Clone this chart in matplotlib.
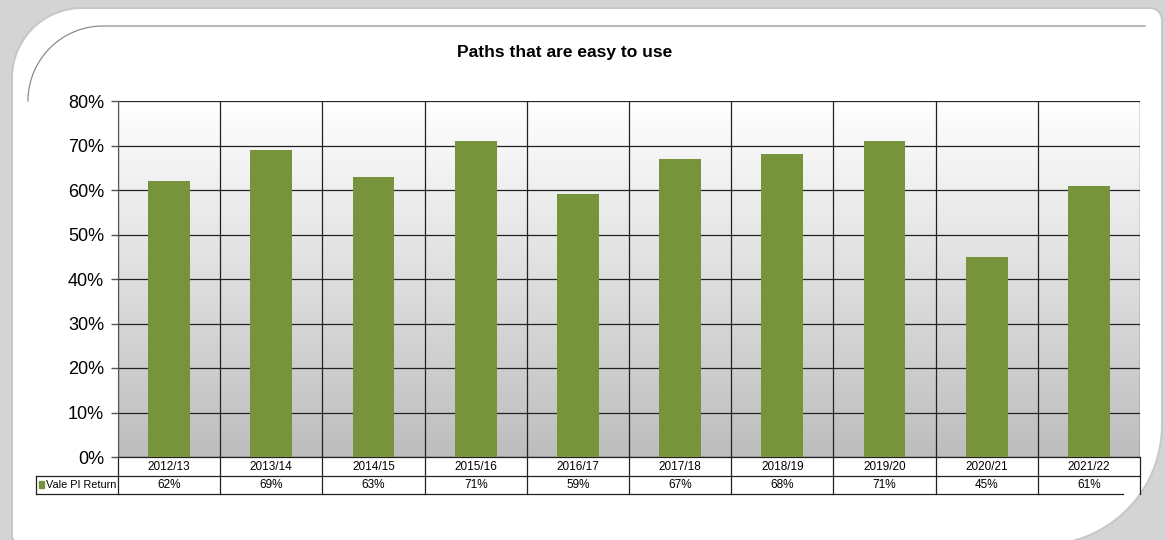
import numpy as np
import matplotlib
matplotlib.use('Agg')
from matplotlib import pyplot as plt
from matplotlib.path import Path
from matplotlib.patches import PathPatch, Rectangle

seasons = ['2012/13', '2013/14', '2014/15', '2015/16', '2016/17',
           '2017/18', '2018/19', '2019/20', '2020/21', '2021/22']
vale_pi_return = [62, 69, 63, 71, 59, 67, 68, 71, 45, 61]
series_name = 'Vale PI Return'
y_ticks = [0, 10, 20, 30, 40, 50, 60, 70, 80]

plt.rcParams['font.family'] = ['Liberation Sans Narrow', 'Liberation Sans', 'DejaVu Sans']

green = '#77933c'
W, H = 1166, 540

fig = plt.figure(figsize=(11.66, 5.4), dpi=100)
fig.patch.set_facecolor('#d4d4d4')

# decorative frame
bg = fig.add_axes([0, 0, 1, 1], zorder=-5)
bg.set_xlim(0, W)
bg.set_ylim(H, 0)
bg.axis('off')


def rounded(x0, y0, x1, y1, r_tl, r_tr, r_br, r_bl, n=30):
    pts = []
    for cx, cy, r, a0 in [(x0 + r_tl, y0 + r_tl, r_tl, 180), (x1 - r_tr, y0 + r_tr, r_tr, 270),
                          (x1 - r_br, y1 - r_br, r_br, 0), (x0 + r_bl, y1 - r_bl, r_bl, 90)]:
        a = np.radians(np.linspace(a0, a0 + 90, n))
        pts += list(zip(cx + r * np.cos(a), cy + r * np.sin(a)))
    pts.append(pts[0])
    return Path(pts, closed=True)


bg.add_patch(PathPatch(rounded(12, 8, 1162, 545, 70, 12, 120, 10), fc='white', ec='#c8c8c8', lw=1.5))
a = np.radians(np.linspace(180, 270, 40))
arc_x = list(28 + 75 * (1 + np.cos(a))) + [1145]
arc_y = list(101 + 75 * np.sin(a)) + [26]
bg.plot(arc_x, arc_y, color='#8c8c8c', lw=0.9)

# main plot
ax = fig.add_axes([118 / W, 1 - 457 / H, (1140 - 118) / W, (457 - 101) / H])
grad = np.linspace(0, 1, 256).reshape(-1, 1)
ax.imshow(grad, cmap=matplotlib.colors.LinearSegmentedColormap.from_list('g', ['#ffffff', '#bdbdbd']),
          extent=[0, 1, 0, 1], transform=ax.transAxes, aspect='auto', zorder=0)

x = np.arange(len(seasons))
ax.bar(x, vale_pi_return, width=0.41, color=green, zorder=3)
ax.set_xlim(-0.5, len(seasons) - 0.5)
ax.set_ylim(0, 80)
ax.set_yticks(y_ticks)
ax.set_yticklabels([f'{t}%' for t in y_ticks], fontsize=13)
ax.tick_params(axis='y', length=5, width=1, color='#555555', pad=5)
ax.set_xticks([])
for t in y_ticks:
    ax.axhline(t, color='#222222', lw=0.9, zorder=1)
for b in np.arange(-0.5, len(seasons), 1.0):
    ax.axvline(b, color='#222222', lw=0.9, zorder=1)
for s in ax.spines.values():
    s.set_visible(False)
ax.spines['left'].set_visible(True)
ax.spines['left'].set_color('#555555')

# data table below the axis
tr = ax.get_xaxis_transform()
r0, r1, r2 = 0, -19 / 356, -37 / 356
left = -0.5 - 82 * len(seasons) / 1022
for b in np.arange(-0.5, len(seasons), 1.0):
    ax.plot([b, b], [r0, r2], transform=tr, color='#222222', lw=0.9, clip_on=False)
ax.plot([-0.5, len(seasons) - 0.5], [r0, r0], transform=tr, color='#222222', lw=0.9, clip_on=False)
ax.plot([left, len(seasons) - 0.5], [r1, r1], transform=tr, color='#222222', lw=0.9, clip_on=False)
ax.plot([left, len(seasons) - 0.67], [r2, r2], transform=tr, color='#222222', lw=0.9, clip_on=False)
ax.plot([left, left], [r1, r2], transform=tr, color='#222222', lw=0.9, clip_on=False)
for i, (s, v) in enumerate(zip(seasons, vale_pi_return)):
    ax.text(i, (r0 + r1) / 2, s, transform=tr, ha='center', va='center', fontsize=8.5)
    ax.text(i, (r1 + r2) / 2, f'{v}%', transform=tr, ha='center', va='center', fontsize=8.5)
ax.add_patch(Rectangle((left + 0.03, (r1 + r2) / 2 - 0.009), 0.05, 0.019, transform=tr,
                       color=green, clip_on=False))
ax.text(left + 0.1, (r1 + r2) / 2, series_name, transform=tr, ha='left', va='center', fontsize=7.8)

fig.text(565 / W, 1 - 52 / H, 'Paths that are easy to use', ha='center', va='center',
         fontsize=12.5, fontweight='bold')

fig.savefig('out.png', dpi=100, facecolor=fig.get_facecolor())
